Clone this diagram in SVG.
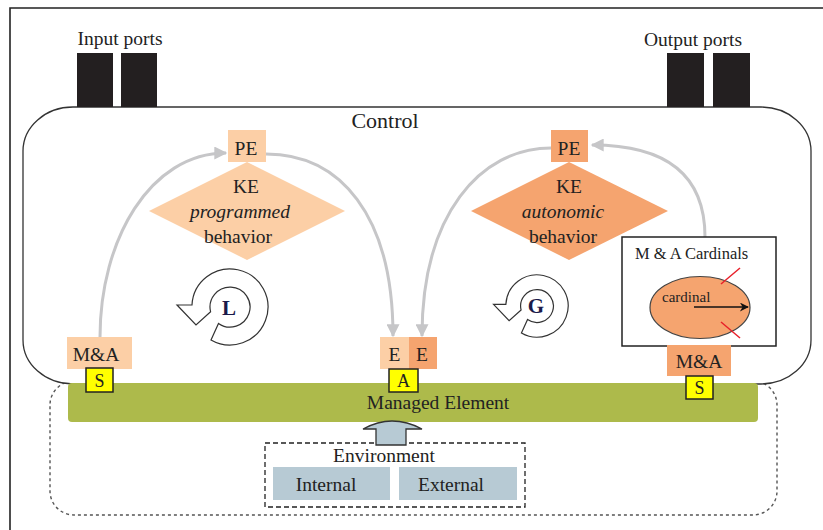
<svg xmlns="http://www.w3.org/2000/svg" width="823" height="530" viewBox="0 0 823 530">
<defs>
<style>
text{font-family:"Liberation Serif","Times New Roman",serif;fill:#222;}
.lbl{font-size:19.5px;text-anchor:middle;}
.gray{fill:none;stroke:#c6c6c8;stroke-width:3;}
.ln{fill:#fccfa6;}
.dk{fill:#f5a46f;}
.sq{fill:#ffff00;stroke:#222;stroke-width:1.5;}
.port{fill:#231f20;}
.env{fill:#b7cad4;}
.icon{fill:#fff;stroke:#333;stroke-width:1.2;}
.ico{font-size:21px;font-weight:bold;text-anchor:middle;fill:#1a1a4a;}
</style>
<marker id="ah" viewBox="0 0 10 10" refX="9" refY="5" markerWidth="14" markerHeight="13" markerUnits="userSpaceOnUse" orient="auto">
<path d="M0,0 L10,5 L0,10 Z" fill="#c6c6c8"/>
</marker>
<marker id="bk" viewBox="0 0 10 10" refX="9" refY="5" markerWidth="10" markerHeight="9" markerUnits="userSpaceOnUse" orient="auto">
<path d="M0,0 L10,5 L0,10 L3,5 Z" fill="#111"/>
</marker>
<path id="cyc" d="M-19,32.9 A38,38 0 1 0 -38,-2 L-53,-2 L-34,18 L-19.4,4.8 A20,20 0 1 1 -11.5,16.4 Z"/>
</defs>
<rect width="823" height="530" fill="#fff"/>
<g id="frame">
<path d="M10,530 L10,8 L823,8" fill="none" stroke="#222" stroke-width="1.6"/>
</g>
<g id="system-boundary">
<rect x="50" y="381" width="727" height="134" rx="24" ry="24" fill="none" stroke="#555" stroke-width="1.4" stroke-dasharray="3,3"/>
</g>
<g id="control">
<rect x="23" y="107" width="788" height="277" rx="50" ry="44" fill="#fff" stroke="#333" stroke-width="1.3"/>
<text x="385" y="128" class="lbl" style="font-size:22px">Control</text>
</g>
<g id="input-ports">
<rect class="port" x="77" y="53" width="36" height="54"/>
<rect class="port" x="121" y="53" width="36" height="54"/>
<text x="120" y="45" class="lbl">Input ports</text>
</g>
<g id="output-ports">
<rect class="port" x="667" y="53" width="37" height="54"/>
<rect class="port" x="713" y="53" width="37" height="54"/>
<text x="693" y="46" class="lbl">Output ports</text>
</g>
<g id="managed-element">
<rect x="68" y="383" width="690" height="39" rx="4" fill="#adba4b"/>
<text x="438" y="409" class="lbl">Managed Element</text>
</g>
<g id="environment">
<rect x="265" y="443" width="260" height="64" fill="none" stroke="#222" stroke-width="1.3" stroke-dasharray="5,3"/>
<text x="384" y="462" class="lbl">Environment</text>
<rect class="env" x="273" y="467" width="117" height="33"/>
<text x="326" y="491" class="lbl">Internal</text>
<rect class="env" x="399" y="467" width="118" height="33"/>
<text x="451" y="491" class="lbl">External</text>
</g>
<g id="env-arrow">
<path d="M376,445 L376,429 L363,429 Q378,421 392,421 Q407,421 422,429 L406,429 L406,445 Z" fill="#b7cad4" stroke="#333" stroke-width="1.3"/>
</g>
<g id="connectors">
<path class="gray" d="M100,337 C100,240 150,153 226,153" marker-end="url(#ah)"/>
<path class="gray" d="M266,154 C340,154 393,215 393,336" marker-end="url(#ah)"/>
<path class="gray" d="M551,148 C480,148 422,215 422,336" marker-end="url(#ah)"/>
<path class="gray" d="M705,237 C705,170 660,145 592,145" marker-end="url(#ah)"/>
</g>
<g id="ke-programmed">
<polygon class="ln" points="149,211 247,162 345,211 247,260"/>
<text x="246" y="193" class="lbl">KE</text>
<text x="240" y="218" class="lbl" font-style="italic">programmed</text>
<text x="238" y="243" class="lbl">behavior</text>
</g>
<g id="pe-left">
<rect class="ln" x="228" y="130" width="38" height="32"/>
<text x="246" y="155" class="lbl">PE</text>
</g>
<g id="ke-autonomic">
<polygon class="dk" points="471,211 569,162 668,211 569,260"/>
<text x="569" y="193" class="lbl">KE</text>
<text x="563" y="218" class="lbl" font-style="italic">autonomic</text>
<text x="563" y="243" class="lbl">behavior</text>
</g>
<g id="pe-right">
<rect class="dk" x="551" y="130" width="37" height="32"/>
<text x="569" y="155" class="lbl">PE</text>
</g>
<g id="loop-L">
<use href="#cyc" class="icon" transform="translate(230,307)"/>
<text x="229" y="315" class="ico">L</text>
</g>
<g id="loop-G">
<use href="#cyc" class="icon" transform="translate(537,306) scale(0.82)" style="stroke-width:1.45"/>
<text x="536" y="313" class="ico">G</text>
</g>
<g id="ma-left">
<rect class="ln" x="67" y="337" width="65" height="32"/>
<text x="96" y="361" class="lbl">M&amp;A</text>
<rect class="sq" x="86" y="368" width="27" height="24"/>
<text x="99.5" y="387" class="lbl" style="font-size:18px">S</text>
</g>
<g id="effectors">
<rect class="ln" x="380" y="337" width="29" height="32"/>
<text x="394.5" y="361" class="lbl">E</text>
<rect class="dk" x="409" y="337" width="28" height="32"/>
<text x="422" y="361" class="lbl">E</text>
<rect class="sq" x="389" y="369" width="29" height="23"/>
<text x="403.5" y="387" class="lbl" style="font-size:18px">A</text>
</g>
<g id="ma-cardinals">
<rect x="622" y="237" width="154" height="109" fill="#fff" stroke="#222" stroke-width="1.5"/>
<text x="635" y="259" style="font-size:16.5px">M &amp; A Cardinals</text>
<ellipse cx="700" cy="307.5" rx="50" ry="31" fill="#f5a46f" stroke="#444" stroke-width="1.2"/>
<text x="662" y="302" style="font-size:15px">cardinal</text>
<line x1="694" y1="307" x2="748" y2="307" stroke="#111" stroke-width="1.4" marker-end="url(#bk)"/>
<line x1="721" y1="284" x2="740" y2="268" stroke="#e8202a" stroke-width="1.5"/>
<line x1="721" y1="322" x2="740" y2="338" stroke="#e8202a" stroke-width="1.5"/>
</g>
<g id="ma-right">
<rect class="dk" x="667" y="345" width="64" height="31"/>
<text x="699" y="368" class="lbl">M&amp;A</text>
<rect class="sq" x="686" y="376" width="27" height="23"/>
<text x="699.5" y="394" class="lbl" style="font-size:18px">S</text>
</g>
</svg>
